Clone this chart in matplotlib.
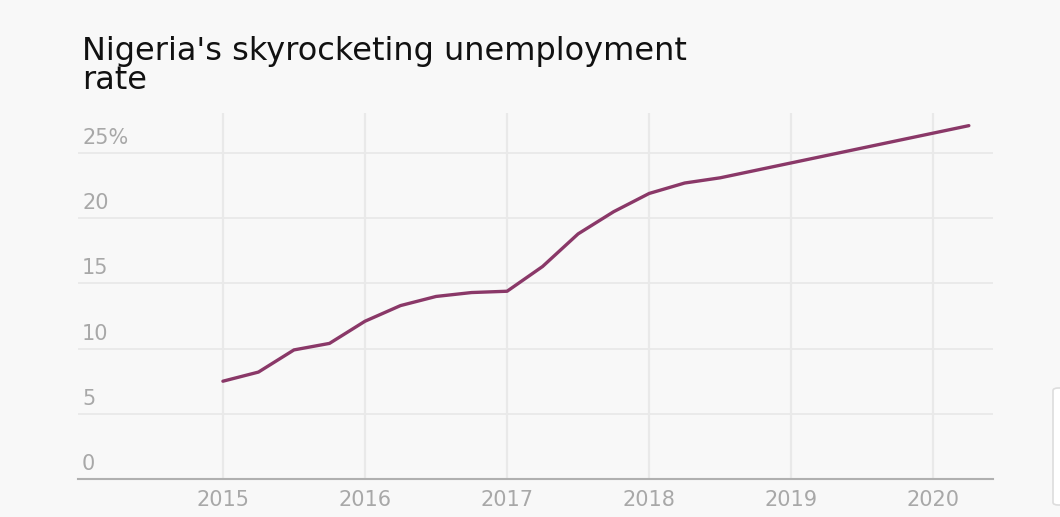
import matplotlib.pyplot as plt
from matplotlib.patches import FancyBboxPatch

# quarterly unemployment rate (%)
periods = [2015.0, 2015.25, 2015.5, 2015.75,
           2016.0, 2016.25, 2016.5, 2016.75,
           2017.0, 2017.25, 2017.5, 2017.75,
           2018.0, 2018.25, 2018.5, 2020.25]
rate = [7.5, 8.2, 9.9, 10.4,
        12.1, 13.3, 14.0, 14.3,
        14.4, 16.3, 18.8, 20.5,
        21.9, 22.7, 23.1, 27.1]
years = [2015, 2016, 2017, 2018, 2019, 2020]
yticks = [0, 5, 10, 15, 20, 25]
ylabels = ["0", "5", "10", "15", "20", "25%"]

bg = "#f8f8f8"
grid = "#e9e9e9"
tick_col = "#a8a8a8"
line_col = "#8a3868"

fig = plt.figure(figsize=(10.6, 5.17), dpi=100, facecolor=bg)
ax = fig.add_axes([78/1060, 1-479/517, (993-78)/1060, (479-113)/517])
ax.set_facecolor(bg)

ax.plot(periods, rate, color=line_col, lw=2.4, solid_capstyle="round", zorder=3)

ax.set_xlim(2013.98, 2020.42)
ax.set_ylim(0, 28.07)

for v in yticks[1:]:
    ax.axhline(v, color=grid, lw=1.3, zorder=1)
for yr in years:
    ax.axvline(yr, color=grid, lw=1.6, zorder=1)

# y labels sit above the gridlines, flush left
for v, lab in zip(yticks, ylabels):
    ax.annotate(lab, xy=(0, v), xycoords=("axes fraction", "data"),
                xytext=(4, 5), textcoords="offset pixels",
                ha="left", va="bottom", fontsize=15, color=tick_col)

ax.set_yticks([])
ax.set_xticks(years)
ax.set_xticklabels([str(y) for y in years], fontsize=15, color=tick_col)
ax.tick_params(axis="x", length=0, pad=8)

for s in ["top", "right", "left"]:
    ax.spines[s].set_visible(False)
ax.spines["bottom"].set_color("#b0b0b0")
ax.spines["bottom"].set_linewidth(1.5)

fig.text(82/1060, 1-36/517, "Nigeria's skyrocketing unemployment\nrate",
         ha="left", va="top", fontsize=23, color="#111111",
         linespacing=0.9)

# stray UI panel at the right edge of the screenshot
fig.patches.append(FancyBboxPatch((1053/1060, 1-505/517), 0.02, 117/517,
                                  boxstyle="round,pad=0,rounding_size=0.005",
                                  transform=fig.transFigure, facecolor="white",
                                  edgecolor="#dddddd", lw=1.2))

fig.savefig("out.png", dpi=100, facecolor=bg)
